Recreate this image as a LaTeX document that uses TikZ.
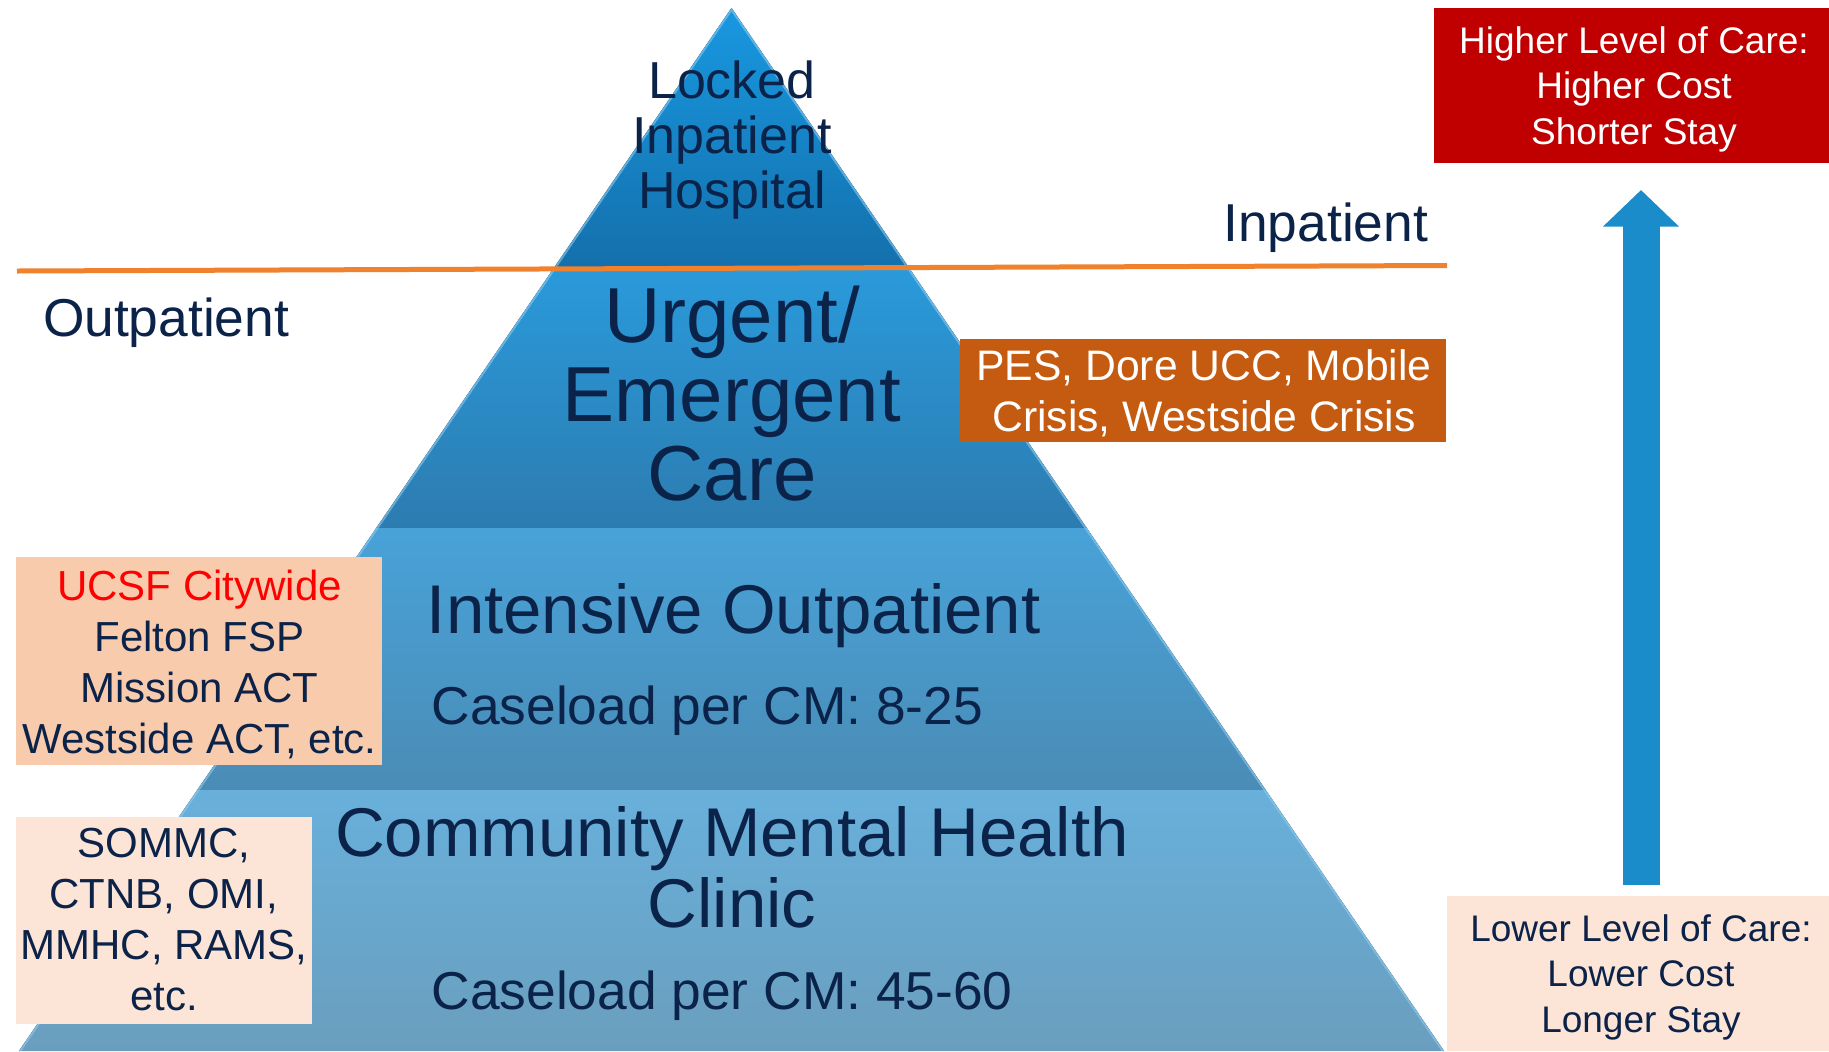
\documentclass[tikz,border=0pt]{standalone}
\usepackage{fontspec}
\setmainfont{Liberation Sans}
\usetikzlibrary{arrows.meta}
\definecolor{navy}{HTML}{0B2249}
\definecolor{tierAtop}{HTML}{1898E0}
\definecolor{tierAbot}{HTML}{1470AC}
\definecolor{tierBtop}{HTML}{2A9ADB}
\definecolor{tierBbot}{HTML}{2C7CB0}
\definecolor{tierCtop}{HTML}{48A2D8}
\definecolor{tierCbot}{HTML}{4A8CB6}
\definecolor{tierDtop}{HTML}{68B0DB}
\definecolor{tierDbot}{HTML}{6A9EBE}
\definecolor{edgeglow}{HTML}{8FCBF0}
\definecolor{lineorange}{HTML}{F0822D}
\definecolor{pesorange}{HTML}{C55A11}
\definecolor{peachdark}{HTML}{F8CBAD}
\definecolor{peachlight}{HTML}{FCE4D6}
\definecolor{darkred}{HTML}{C00000}
\definecolor{arrowblue}{HTML}{1A8CCA}
\tikzset{
  boxshape/.style={rectangle, inner sep=0pt, outer sep=0pt, draw=none},
  lbl/.style={inner sep=0pt, outer sep=0pt, align=center, text=navy},
}
\begin{document}
\begin{tikzpicture}[x=0.75pt,y=-0.75pt]
\useasboundingbox (0,0) rectangle (1829,1051);
\fill[white] (0,0) rectangle (1829,1051);

% pyramid
\coordinate (apex) at (731.5,8);
\coordinate (baseL) at (19,1051);
\coordinate (baseR) at (1444,1051);
\begin{scope}
  \clip (apex) -- (baseR) -- (baseL) -- cycle;
  \fill[top color=tierAtop, bottom color=tierAbot] (0,8) rectangle (1829,267);
  \fill[top color=tierBtop, bottom color=tierBbot] (0,267) rectangle (1829,528);
  \fill[top color=tierCtop, bottom color=tierCbot] (0,528) rectangle (1829,790);
  \fill[top color=tierDtop, bottom color=tierDbot] (0,790) rectangle (1829,1051);
  \draw[edgeglow, opacity=0.6, line width=3pt] (baseL) -- (apex) -- (baseR);
\end{scope}

% inpatient / outpatient divider
\coordinate (olL) at (17,271);
\coordinate (olR) at (1447,265.5);
\draw[lineorange, line width=3.75pt] (olL) -- (olR);

% pyramid labels
\node[lbl, font=\fontsize{39}{41.25}\selectfont] (locked) at (732,140.2)
  {Locked\\Inpatient\\Hospital};
\node[lbl, font=\fontsize{58.5}{58.9}\selectfont] (urgent) at (732,393.6)
  {Urgent/\\Emergent\\Care};
\node[lbl, anchor=base, font=\fontsize{51.75}{53.25}\selectfont] (intensive) at (733.7,633)
  {Intensive Outpatient};
\node[lbl, anchor=base west, font=\fontsize{40}{48}\selectfont] (caseA) at (431.6,724.6)
  {Caseload per CM: 8-25};
\node[lbl, font=\fontsize{51.75}{53.25}\selectfont] (community) at (732,867.8)
  {Community Mental Health\\Clinic};
\node[lbl, anchor=base west, font=\fontsize{40}{48}\selectfont] (caseB) at (431.6,1009)
  {Caseload per CM: 45-60};

% side labels
\node[lbl, anchor=base east, font=\fontsize{40}{48}\selectfont] (inpat) at (1428,241.7) {Inpatient};
\node[lbl, anchor=base west, font=\fontsize{40}{48}\selectfont] (outpat) at (43,336) {Outpatient};

% boxes
\node[boxshape, fill=pesorange, minimum width=364.5pt, minimum height=76.9pt] (pesbox) at (1203,390.75) {};
\node[lbl, text=white, font=\fontsize{32}{38}\selectfont] (pestext) at (1204,393.2)
  {PES, Dore UCC, Mobile\\Crisis, Westside Crisis};

\node[boxshape, fill=peachdark, minimum width=274.5pt, minimum height=156pt] (ucsfbox) at (199,661) {};
\node[lbl, font=\fontsize{31.5}{38.3}\selectfont] (ucsftext) at (199.5,664.3)
  {\textcolor{red}{UCSF Citywide}\\Felton FSP\\Mission ACT\\Westside ACT, etc.};

\node[boxshape, fill=peachlight, minimum width=222pt, minimum height=155.25pt] (sommcbox) at (164,920.5) {};
\node[lbl, font=\fontsize{31.5}{38.1}\selectfont] (sommctext) at (164,919.6)
  {SOMMC,\\CTNB, OMI,\\MMHC, RAMS,\\etc.};

\node[boxshape, fill=darkred, minimum width=296.25pt, minimum height=116pt] (highbox) at (1631.5,85.3) {};
\node[lbl, text=white, font=\fontsize{27.75}{34}\selectfont] (hightext) at (1634,89.3)
  {Higher Level of Care:\\Higher Cost\\Shorter Stay};

\node[boxshape, fill=peachlight, minimum width=286.5pt, minimum height=116.5pt] (lowbox) at (1638,973.35) {};
\node[lbl, font=\fontsize{27.75}{34}\selectfont] (lowtext) at (1641,977.3)
  {Lower Level of Care:\\Lower Cost\\Longer Stay};

% level-of-care arrow
\coordinate (arrbot) at (1641,885);
\coordinate (arrtip) at (1641,190);
\draw[arrowblue, line width=27.75pt, line cap=butt,
      -{Triangle[width=55.5pt, length=27.5pt]}] (arrbot) -- (arrtip);
\end{tikzpicture}
\end{document}
